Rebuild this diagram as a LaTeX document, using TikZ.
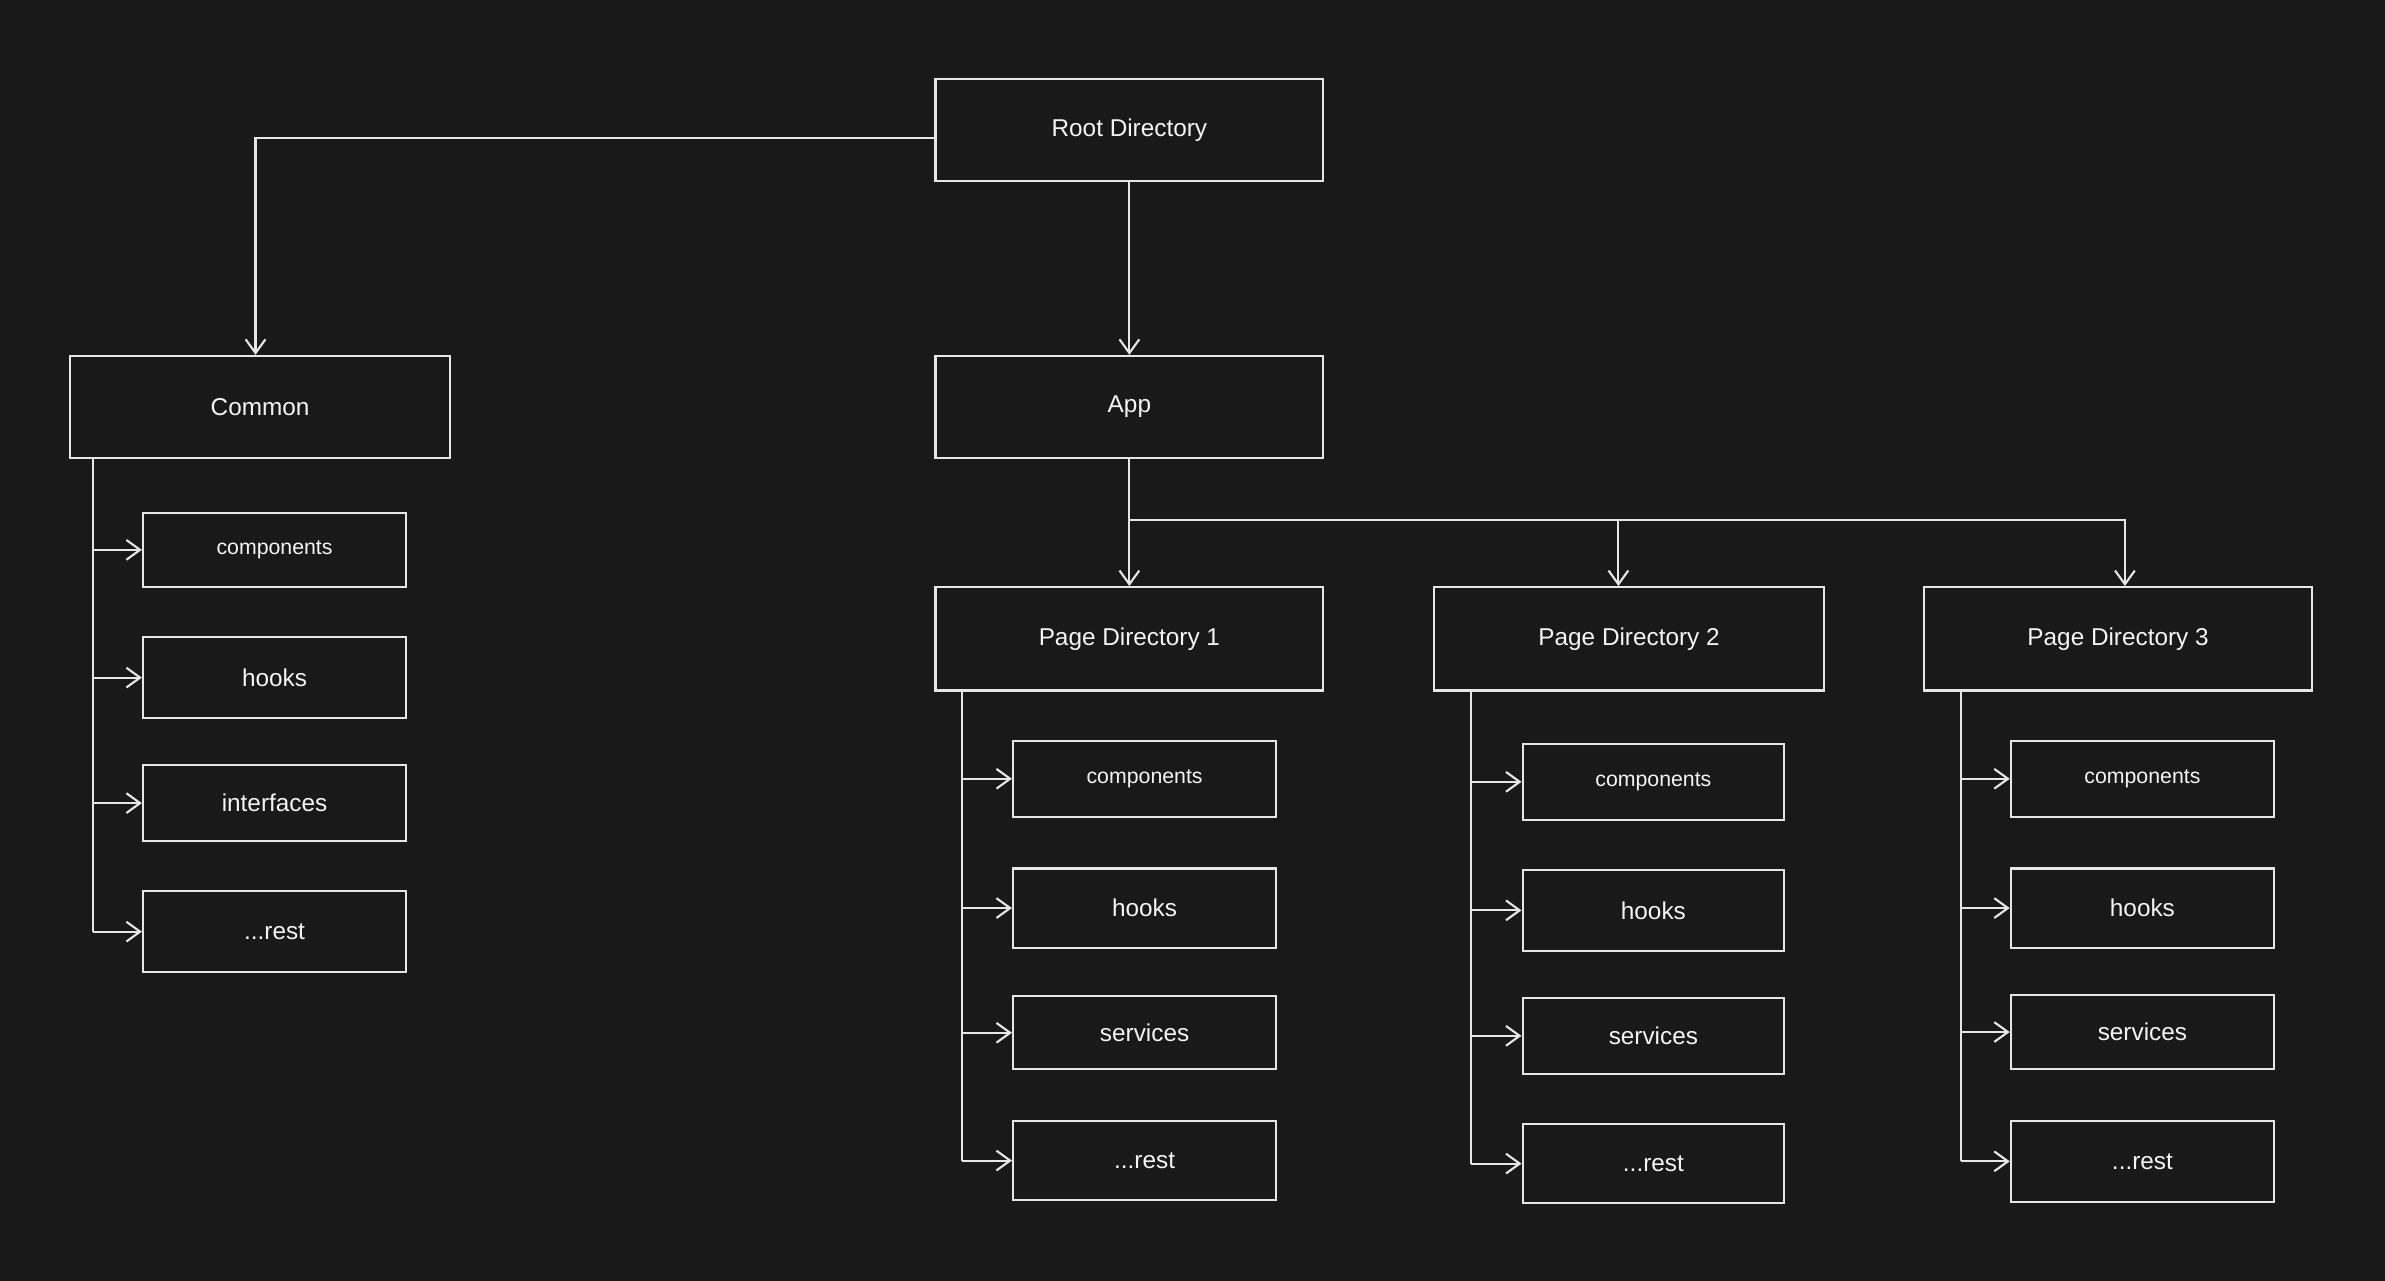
\documentclass[tikz,border=0pt]{standalone}
\usepackage{fontspec}
\setmainfont{Liberation Sans}
\usetikzlibrary{arrows.meta}
\definecolor{bgc}{HTML}{191919}
\definecolor{fgc}{HTML}{E6E6E6}
\definecolor{txc}{HTML}{F4F4F4}
\tikzset{
  box/.style={draw=fgc, line width=1.4pt, fill=bgc, text=txc, rectangle, inner sep=0pt,
    font=\fontsize{16}{19}\selectfont},
  bigbox/.style={box, minimum width=255pt, minimum height=67pt},
  subbox/.style={box, minimum width=173pt, minimum height=51pt},
  smalltxt/.style={font=\fontsize{14}{17}\selectfont},
  conn/.style={draw=fgc, line width=1.4pt},
  arr/.style={conn, -{Straight Barb[length=9pt,width=13pt,line width=1.4pt]}},
}
\begin{document}
\begin{tikzpicture}[x=1pt,y=-1pt]
\fill[bgc] (0,0) rectangle (1568,842);
\useasboundingbox (0,0) rectangle (1568,842);

% top-level
\node[bigbox] (root) at (742.5,85.5) {Root Directory};
\node[bigbox, minimum width=250pt] (common) at (171,267.5) {Common};
\node[bigbox] (app) at (742.5,267.5) {App};
\node[bigbox, minimum height=68pt] (pd1) at (742.5,420) {Page Directory 1};
\node[bigbox, minimum height=68pt, minimum width=256pt] (pd2) at (1071,420) {Page Directory 2};
\node[bigbox, minimum height=68pt] (pd3) at (1392.5,420) {Page Directory 3};

% Common children
\node[subbox, smalltxt, minimum height=49pt] (c1) at (180.5,361.5) {components};
\node[subbox, minimum height=53pt] (c2) at (180.5,445.5) {hooks};
\node[subbox, minimum height=50pt] (c3) at (180.5,528) {interfaces};
\node[subbox, minimum height=53pt] (c4) at (180.5,612.5) {...rest};

% PD1 children
\node[subbox, smalltxt, minimum height=50pt] (a1) at (752.5,512) {components};
\node[subbox, minimum height=52pt] (a2) at (752.5,597) {hooks};
\node[subbox, minimum height=48pt] (a3) at (752.5,679) {services};
\node[subbox, minimum height=52pt] (a4) at (752.5,763) {...rest};

% PD2 children
\node[subbox, smalltxt, minimum height=50pt, minimum width=172pt] (b1) at (1087,514) {components};
\node[subbox, minimum height=53pt, minimum width=172pt] (b2) at (1087,598.5) {hooks};
\node[subbox, minimum height=50pt, minimum width=172pt] (b3) at (1087,681) {services};
\node[subbox, minimum height=52pt, minimum width=172pt] (b4) at (1087,765) {...rest};

% PD3 children
\node[subbox, smalltxt, minimum height=50pt] (d1) at (1408.5,512) {components};
\node[subbox, minimum height=52pt] (d2) at (1408.5,597) {hooks};
\node[subbox, minimum height=49pt] (d3) at (1408.5,678.5) {services};
\node[subbox, minimum height=53pt] (d4) at (1408.5,763.5) {...rest};

% root connectors
\draw[arr] ([yshift=-5pt]root.west) -| ([xshift=-3pt]common.north);
\draw[arr] (root.south) -- (app.north);

% app connectors
\coordinate (bj) at ([yshift=-40pt]app.south);
\draw[arr] (app.south) -- (pd1.north);
\draw[arr] (bj) -| ([xshift=-7pt]pd2.north);
\draw[arr] (bj) -| ([xshift=4.5pt]pd3.north);

% trunks
\coordinate (ct) at ([xshift=16pt]common.south west);
\coordinate (at) at ([xshift=18pt]pd1.south west);
\coordinate (btk) at ([xshift=25pt]pd2.south west);
\coordinate (dt) at ([xshift=25pt]pd3.south west);

\foreach \t/\p in {ct/c, at/a, btk/b, dt/d}{
  \draw[conn] (\t) -- (\t |- \p4.west);
  \foreach \i in {1,2,3,4}{
    \draw[arr] (\t |- \p\i.west) -- (\p\i.west);
  }
}
\end{tikzpicture}
\end{document}
